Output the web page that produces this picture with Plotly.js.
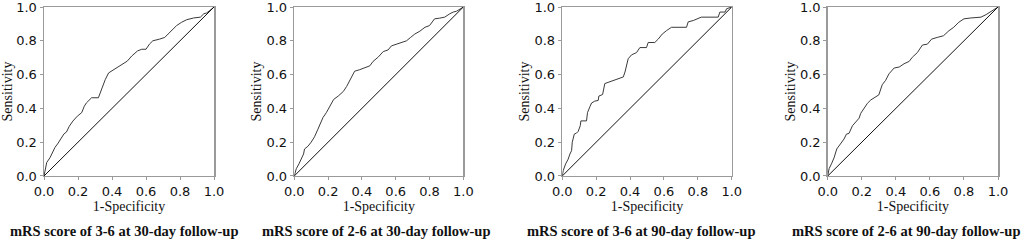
<!DOCTYPE html>
<html>
<head>
<meta charset="utf-8">
<script src="https://cdn.plot.ly/plotly-3.0.1.min.js"></script>
<style>html,body{margin:0;padding:0;background:#fff;}#chart{width:1021px;height:244px;}</style>
</head>
<body>
<div id="chart"></div>
<script>
// Panel subtitles
const panelTitles = [
  "mRS score of 3-6 at 30-day follow-up",
  "mRS score of 2-6 at 30-day follow-up",
  "mRS score of 3-6 at 90-day follow-up",
  "mRS score of 2-6 at 90-day follow-up"
];
const tickVals = [0, 0.2, 0.4, 0.6, 0.8, 1.0];
const tickText = ["0.0", "0.2", "0.4", "0.6", "0.8", "1.0"];
const refX = [0, 1];
const refY = [0, 1];

// Panel 1: mRS 3-6 at 30 days
const fpr1 = [0,0.006,0.016,0.035,0.05,0.065,0.08,0.1,0.118,0.132,0.149,0.17,0.196,0.222,0.237,0.25,0.28,0.32,0.33,0.34,0.36,0.38,0.41,0.44,0.467,0.49,0.516,0.55,0.575,0.6,0.62,0.64,0.68,0.71,0.73,0.76,0.78,0.81,0.84,0.88,0.92,0.94,0.957,0.976,1];
const tpr1 = [0,0.03,0.08,0.108,0.14,0.17,0.19,0.22,0.25,0.26,0.295,0.325,0.354,0.375,0.413,0.433,0.463,0.463,0.49,0.52,0.57,0.61,0.63,0.65,0.665,0.68,0.71,0.74,0.75,0.75,0.78,0.8,0.81,0.82,0.84,0.87,0.89,0.91,0.925,0.935,0.94,0.96,0.965,0.98,1];

// Panel 2: mRS 2-6 at 30 days
const fpr2 = [0,0.012,0.028,0.04,0.055,0.061,0.081,0.1,0.12,0.14,0.16,0.17,0.19,0.21,0.233,0.26,0.29,0.31,0.33,0.357,0.387,0.417,0.447,0.466,0.496,0.526,0.555,0.575,0.605,0.634,0.664,0.688,0.713,0.743,0.773,0.8,0.83,0.86,0.89,0.92,0.94,0.96,0.98,1];
const tpr2 = [0,0.043,0.072,0.096,0.13,0.16,0.176,0.2,0.232,0.277,0.326,0.346,0.375,0.414,0.453,0.473,0.5,0.53,0.57,0.62,0.629,0.639,0.652,0.678,0.703,0.736,0.746,0.77,0.78,0.79,0.8,0.82,0.84,0.857,0.88,0.89,0.93,0.934,0.94,0.96,0.97,0.975,0.99,1];

// Panel 3: mRS 3-6 at 90 days
const fpr3 = [0,0.006,0.02,0.035,0.045,0.055,0.059,0.071,0.084,0.094,0.106,0.11,0.143,0.149,0.163,0.173,0.192,0.212,0.216,0.238,0.251,0.28,0.3,0.326,0.36,0.37,0.389,0.409,0.438,0.458,0.497,0.507,0.546,0.566,0.59,0.615,0.644,0.733,0.743,0.773,0.82,0.92,0.93,0.96,0.97,1];
const tpr3 = [0,0.033,0.072,0.1,0.13,0.15,0.2,0.248,0.254,0.264,0.297,0.326,0.326,0.375,0.41,0.432,0.443,0.447,0.473,0.482,0.547,0.557,0.566,0.572,0.586,0.615,0.694,0.717,0.73,0.76,0.76,0.79,0.79,0.81,0.84,0.86,0.88,0.88,0.912,0.92,0.94,0.94,0.97,0.97,0.99,1];

// Panel 4: mRS 2-6 at 90 days
const fpr4 = [0,0.008,0.022,0.037,0.053,0.076,0.096,0.11,0.125,0.145,0.164,0.184,0.194,0.213,0.233,0.253,0.28,0.3,0.32,0.34,0.36,0.39,0.42,0.448,0.478,0.497,0.526,0.556,0.585,0.61,0.643,0.68,0.712,0.74,0.77,0.8,0.84,0.9,0.93,0.96,1];
const tpr4 = [0,0.043,0.072,0.107,0.16,0.19,0.219,0.248,0.252,0.297,0.316,0.342,0.371,0.4,0.43,0.45,0.47,0.48,0.54,0.566,0.605,0.639,0.645,0.664,0.678,0.703,0.73,0.775,0.78,0.81,0.82,0.83,0.86,0.88,0.91,0.93,0.935,0.94,0.955,0.975,1];

const curves = [[fpr1, tpr1], [fpr2, tpr2], [fpr3, tpr3], [fpr4, tpr4]];
const xDomains = [[0.0431, 0.2096], [0.2882, 0.4538], [0.5507, 0.7167], [0.8107, 0.9775]];
const yDomain = [0.2787, 0.9713];
const subtitleX = [0.1219, 0.3683, 0.6283, 0.8879];

const traces = [];
const layout = {
  width: 1021, height: 244,
  margin: {l: 0, r: 0, t: 0, b: 0},
  paper_bgcolor: "#ffffff",
  plot_bgcolor: "#ffffff",
  showlegend: false,
  annotations: []
};

const tickFont = {family: "DejaVu Sans", size: 13, color: "#111"};
const titleFont = {family: "Liberation Serif", size: 14, color: "#111"};

curves.forEach((c, i) => {
  const n = i === 0 ? "" : String(i + 1);
  traces.push({
    x: c[0], y: c[1], type: "scatter", mode: "lines",
    xaxis: "x" + n, yaxis: "y" + n,
    line: {color: "#3a3a3a", width: 1}, hoverinfo: "skip"
  });
  traces.push({
    x: refX, y: refY, type: "scatter", mode: "lines",
    xaxis: "x" + n, yaxis: "y" + n,
    line: {color: "#111", width: 1}, hoverinfo: "skip"
  });
  const axCommon = {
    range: [0, 1], tickmode: "array", tickvals: tickVals, ticktext: tickText,
    showline: true, mirror: true, linecolor: "#9a9a9a", linewidth: 1.5,
    ticks: "outside", ticklen: 3, tickcolor: "#9a9a9a", tickwidth: 1,
    showgrid: false, zeroline: false, tickfont: tickFont, fixedrange: true,
    ticklabeloverflow: "allow"
  };
  layout["xaxis" + n] = Object.assign({}, axCommon, {
    domain: xDomains[i], anchor: "y" + n,
    title: {text: "1-Specificity", font: titleFont, standoff: 2}
  });
  layout["yaxis" + n] = Object.assign({}, axCommon, {
    domain: yDomain, anchor: "x" + n,
    title: {text: "Sensitivity", font: titleFont, standoff: 1}
  });
  layout.annotations.push({
    text: "<b>" + panelTitles[i] + "</b>",
    xref: "paper", yref: "paper",
    x: subtitleX[i], y: 0.053,
    xanchor: "center", yanchor: "middle", showarrow: false,
    font: {family: "Liberation Serif", size: 14.5, color: "#111"}
  });
});

Plotly.newPlot("chart", traces, layout, {displayModeBar: false, staticPlot: true});
</script>
</body>
</html>
